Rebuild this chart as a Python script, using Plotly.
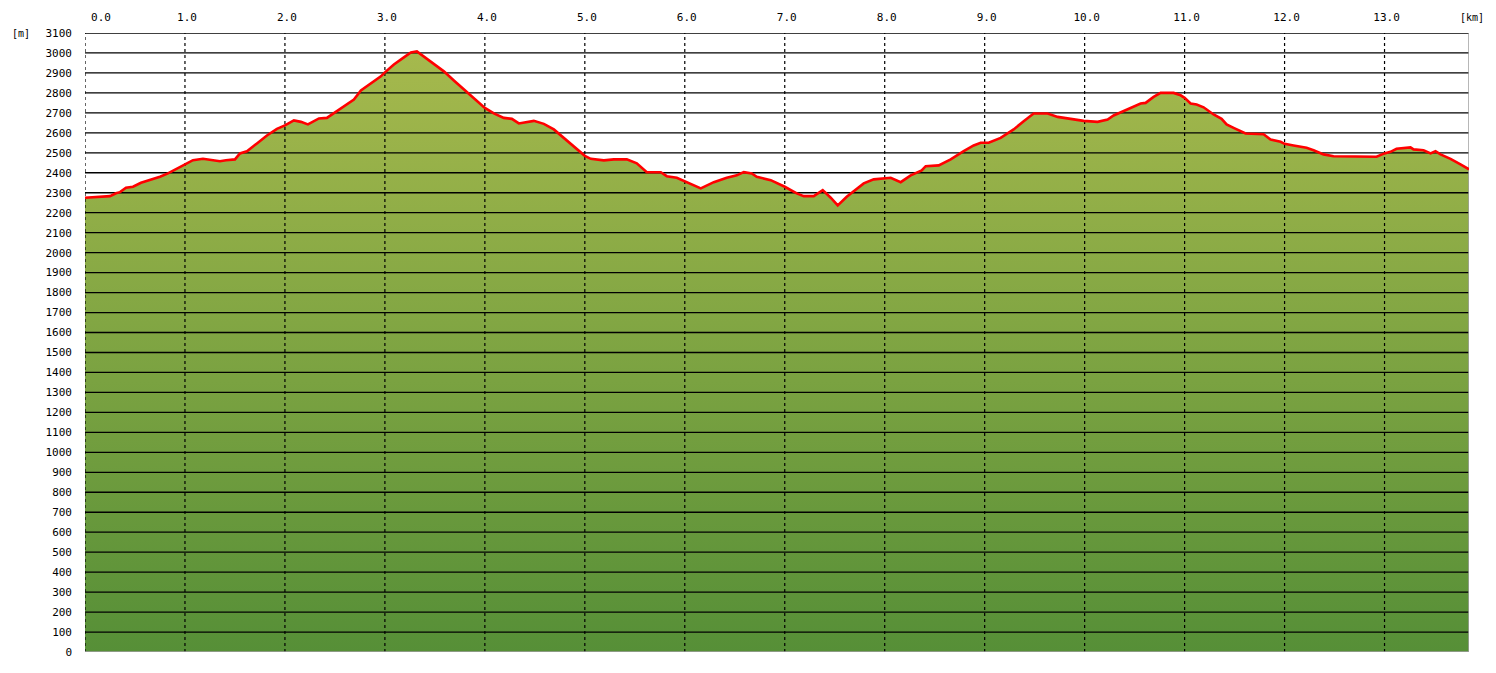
import plotly.graph_objects as go

# distance along route [km]
dist_km = [0.00, 0.11, 0.25, 0.31, 0.35, 0.41, 0.48, 0.56, 0.65, 0.75, 0.83, 0.92,
           1.00, 1.08, 1.18, 1.28, 1.35, 1.41, 1.50, 1.55, 1.62, 1.72, 1.82, 1.92,
           2.00, 2.09, 2.16, 2.23, 2.29, 2.34, 2.42, 2.52, 2.59, 2.69, 2.76, 2.86, 2.96,
           3.00, 3.09, 3.19, 3.26, 3.32, 3.39, 3.49, 3.59, 3.69, 3.79, 3.89,
           4.00, 4.09, 4.19, 4.27, 4.34, 4.49, 4.59, 4.69, 4.79, 4.89,
           5.00, 5.06, 5.19, 5.29, 5.42, 5.52, 5.62, 5.76, 5.82, 5.92,
           6.00, 6.09, 6.16, 6.29, 6.42, 6.52, 6.59, 6.67, 6.72, 6.86,
           7.00, 7.12, 7.19, 7.29, 7.38, 7.46, 7.53, 7.62, 7.69, 7.79, 7.89,
           8.00, 8.06, 8.16, 8.26, 8.37, 8.41, 8.54, 8.66, 8.79, 8.89, 8.96,
           9.04, 9.16, 9.29, 9.39, 9.49, 9.63, 9.73, 9.86, 9.99,
           10.13, 10.23, 10.29, 10.43, 10.56, 10.61, 10.69, 10.76, 10.89, 10.96,
           11.00, 11.06, 11.12, 11.19, 11.29, 11.37, 11.42, 11.49, 11.61, 11.79, 11.86, 11.96,
           12.00, 12.09, 12.22, 12.29, 12.39, 12.49, 12.62, 12.86, 12.92,
           13.00, 13.06, 13.12, 13.26, 13.29, 13.39, 13.46, 13.51, 13.56, 13.66, 13.76, 13.845]

# elevation [m]
elev_m = [2275, 2280, 2283, 2297, 2303, 2325, 2330, 2350, 2363, 2380, 2397, 2420,
          2442, 2463, 2470, 2463, 2458, 2463, 2467, 2497, 2508, 2547, 2587, 2620,
          2637, 2662, 2655, 2642, 2660, 2672, 2675, 2708, 2733, 2767, 2812, 2847, 2883,
          2903, 2942, 2978, 3003, 3008, 2983, 2945, 2908, 2862, 2817, 2775,
          2725, 2697, 2675, 2670, 2647, 2660, 2645, 2617, 2575, 2533,
          2485, 2470, 2462, 2467, 2467, 2447, 2403, 2403, 2383, 2375,
          2358, 2337, 2322, 2353, 2375, 2387, 2403, 2397, 2380, 2363,
          2330, 2297, 2283, 2283, 2313, 2275, 2237, 2280, 2308, 2347, 2367,
          2372, 2375, 2353, 2387, 2412, 2433, 2437, 2467, 2508, 2537, 2550,
          2550, 2575, 2617, 2658, 2697, 2697, 2680, 2670, 2660,
          2655, 2667, 2687, 2717, 2747, 2750, 2780, 2800, 2800, 2788,
          2775, 2747, 2742, 2728, 2692, 2670, 2642, 2625, 2597, 2593, 2567, 2555,
          2545, 2537, 2525, 2513, 2492, 2483, 2483, 2483, 2480,
          2497, 2505, 2520, 2527, 2517, 2513, 2497, 2508, 2492, 2470, 2442, 2417]

x_ticks = list(range(0, 14))
x_tick_text = [f"{v:.1f}" for v in x_ticks]
y_ticks = list(range(0, 3200, 100))
y_tick_text = [str(v) for v in y_ticks]

X_MAX = 13.845
Y_MAX = 3100

# first label is drawn inside the plot edge, as in the original
x_label_pos = [max(v, 0.14) for v in x_ticks]

fig = go.Figure()

# gradient fill
fig.add_trace(go.Scatter(
    x=dist_km, y=elev_m, mode="lines", line=dict(width=0, color="rgba(0,0,0,0)"),
    fill="tozeroy",
    fillgradient=dict(type="vertical", start=0, stop=3010,
                      colorscale=[[0, "#568F37"], [1, "#A6B94D"]]),
    hoverinfo="skip", showlegend=False))

# horizontal grid lines (solid black)
hx, hy = [], []
for v in y_ticks[1:]:
    hx += [0, X_MAX, None]
    hy += [v, v, None]
fig.add_trace(go.Scatter(x=hx, y=hy, mode="lines",
                         line=dict(color="black", width=1.3),
                         hoverinfo="skip", showlegend=False))

# vertical grid lines (dashed black)
vx, vy = [], []
for v in x_ticks:
    vx += [v, v, None]
    vy += [0, Y_MAX, None]
fig.add_trace(go.Scatter(x=vx, y=vy, mode="lines",
                         line=dict(color="black", width=1.2, dash="3px,3px"),
                         hoverinfo="skip", showlegend=False))

# frame lines (gray bottom & right)
fig.add_trace(go.Scatter(x=[-0.02, X_MAX, X_MAX], y=[0, 0, Y_MAX + 15], mode="lines",
                         line=dict(color="#A0A0A0", width=1.5),
                         hoverinfo="skip", showlegend=False, cliponaxis=False))

# elevation line
fig.add_trace(go.Scatter(x=dist_km, y=elev_m, mode="lines",
                         line=dict(color="#FF0000", width=2.6),
                         showlegend=False))

fig.update_layout(
    width=1488, height=657,
    margin=dict(l=77, r=27, t=25, b=13, autoexpand=False),
    paper_bgcolor="white", plot_bgcolor="white",
    font=dict(family="DejaVu Sans Mono", size=11, color="black"),
    xaxis=dict(range=[0, X_MAX], side="top", tickvals=x_label_pos, ticktext=x_tick_text,
               showgrid=False, zeroline=False, showline=False, ticks="",
               ticklabelstandoff=9, ticklabelshift=2, tickfont=dict(size=11),
               automargin=False),
    yaxis=dict(range=[0, Y_MAX], tickvals=y_ticks, ticktext=y_tick_text,
               showgrid=False, zeroline=False, showline=False, ticks="",
               ticklabelstandoff=12, tickfont=dict(size=11), automargin=False),
    annotations=[
        dict(text="[m]", xref="paper", yref="paper", x=(10 - 85) / 1384, y=1.0,
             showarrow=False, xanchor="left", yanchor="middle", font=dict(size=10)),
        dict(text="[km]", xref="paper", yref="paper", x=(1486 - 85) / 1384,
             y=(652 - 17) / 619, showarrow=False, xanchor="right", yanchor="middle",
             font=dict(size=10)),
    ],
)

fig.write_html("out.html")
